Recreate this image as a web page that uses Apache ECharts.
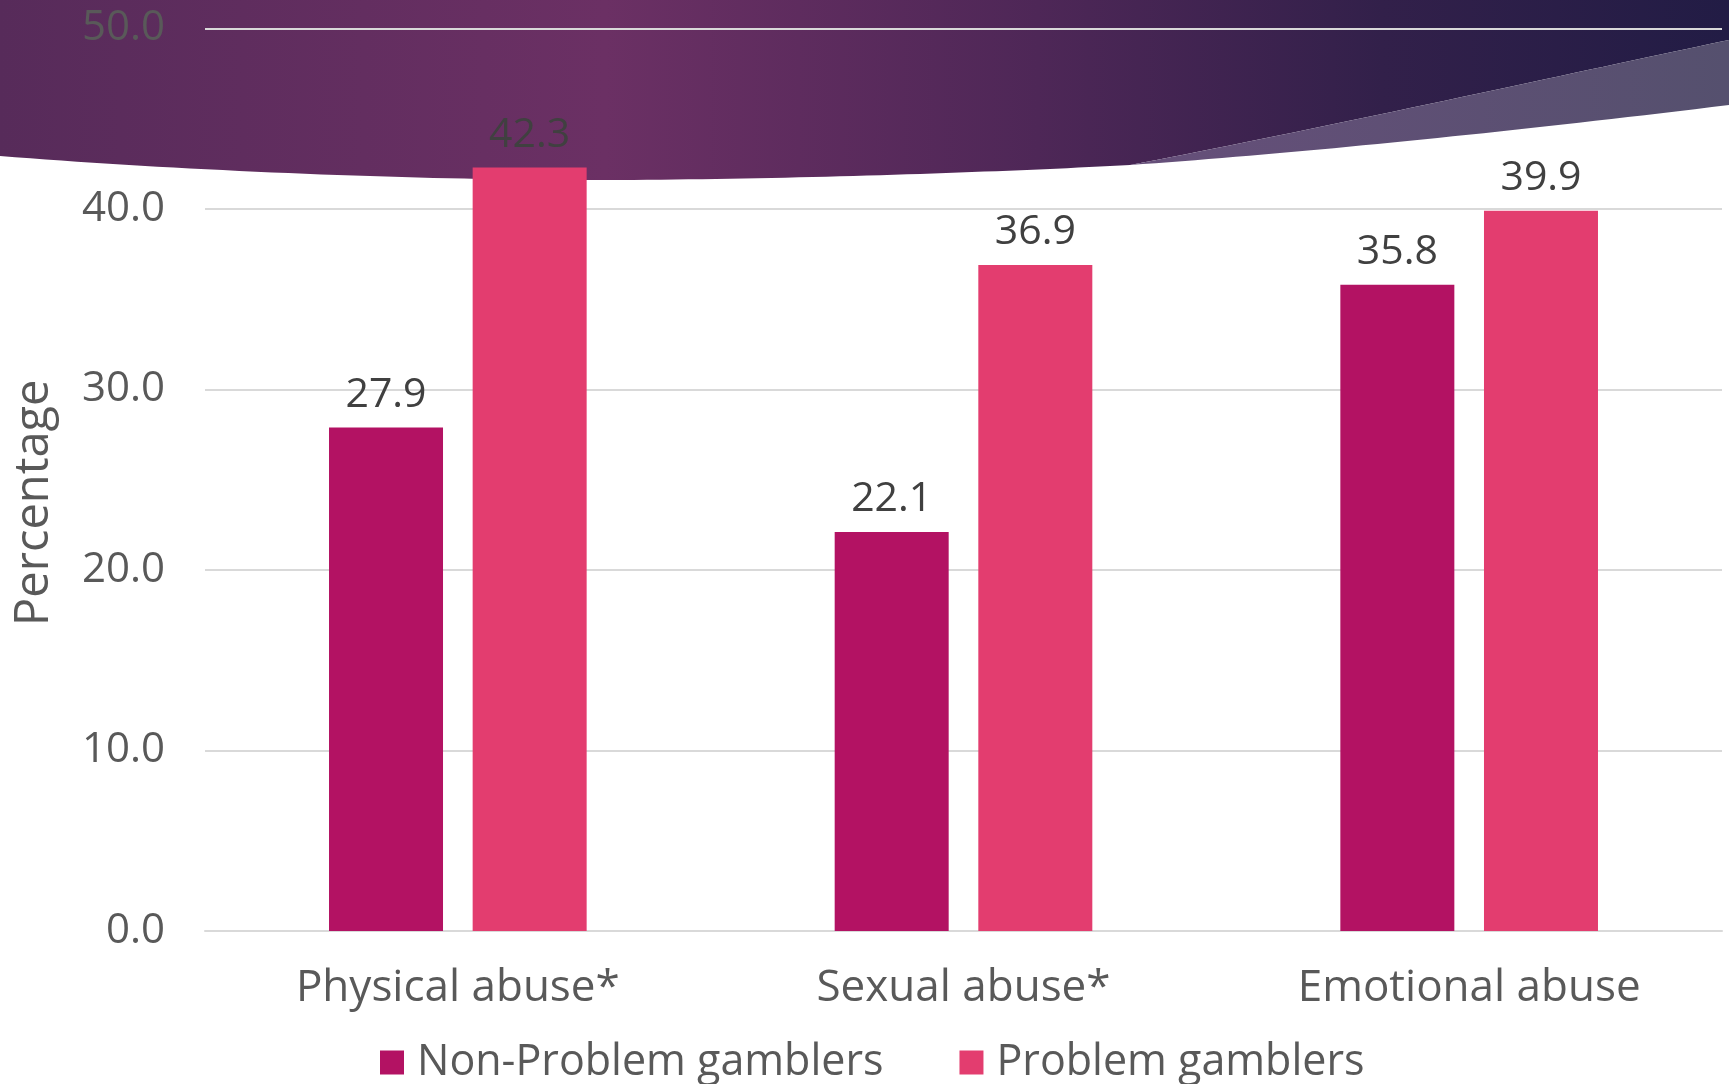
<!DOCTYPE html>
<html>
<head>
<meta charset="utf-8">
<script src="https://cdn.jsdelivr.net/npm/echarts@6/dist/echarts.min.js"></script>
<style>
html,body{margin:0;padding:0;background:#fff;}
#chart{width:1729px;height:1084px;}
</style>
</head>
<body>
<div id="chart"></div>
<script>
const categories = ['Physical abuse*', 'Sexual abuse*', 'Emotional abuse'];
const seriesNames = ['Non-Problem gamblers', 'Problem gamblers'];
const nonProblem = [27.9, 22.1, 35.8];
const problem = [42.3, 36.9, 39.9];
const yTicks = { min: 0, max: 50, interval: 10 };
const yTitle = 'Percentage';

const FONT = 'Open Sans';
const chart = echarts.init(document.getElementById('chart'));

const labelOpt = {
  show: true,
  position: 'top',
  distance: 12,
  fontFamily: FONT,
  fontSize: 41,
  color: '#404040',
  formatter: p => p.value.toFixed(1)
};

function hGrad(stops) {
  return { type: 'linear', x: 0, y: 0, x2: 1, y2: 0, colorStops: stops };
}
// sample a cubic bezier into polygon points (decorative banner only)
function cubic(p0, p1, p2, p3, n) {
  const pts = [];
  for (let i = 0; i <= n; i++) {
    const t = i / n, u = 1 - t;
    pts.push([
      u*u*u*p0[0] + 3*u*u*t*p1[0] + 3*u*t*t*p2[0] + t*t*t*p3[0],
      u*u*u*p0[1] + 3*u*u*t*p1[1] + 3*u*t*t*p2[1] + t*t*t*p3[1]
    ]);
  }
  return pts;
}
const darkPts = [[0, 0], [1729, 0]]
  .concat(cubic([1729, 40], [1600, 67], [1300, 133], [1130, 165], 40))
  .concat(cubic([1130, 165], [1000, 172], [800, 179], [620, 180], 40))
  .concat(cubic([620, 180], [450, 181], [200, 172], [0, 156], 40));
const bandPts = cubic([1729, 40], [1600, 67], [1300, 133], [1130, 165], 40)
  .concat(cubic([1130, 165], [1300, 153], [1500, 133], [1729, 105], 40));

chart.setOption({
  backgroundColor: '#ffffff',
  animation: false,
  textStyle: { fontFamily: FONT },
  graphic: {
    elements: [
      {
        type: 'polygon',
        z: -10,
        silent: true,
        shape: { points: darkPts },
        style: {
          fill: hGrad([
            { offset: 0, color: '#572b5a' },
            { offset: 0.35, color: '#6b3064' },
            { offset: 0.6, color: '#4e2757' },
            { offset: 0.8, color: '#32204a' },
            { offset: 1, color: '#221c45' }
          ])
        }
      },
      {
        type: 'polygon',
        z: -10,
        silent: true,
        shape: { points: bandPts },
        style: {
          fill: hGrad([
            { offset: 0, color: '#664f7a' },
            { offset: 1, color: '#55506e' }
          ])
        }
      }
    ]
  },
  grid: { left: 205, right: 7, top: 28.5, bottom: 153, outerBoundsMode: 'none', containLabel: false },
  legend: {
    data: seriesNames,
    left: 380,
    top: 1041,
    padding: 0,
    icon: 'rect',
    itemWidth: 24,
    itemHeight: 24,
    itemGap: 76,
    textStyle: { fontFamily: FONT, fontSize: 43, color: '#595959', padding: [0, 0, 0, 8] }
  },
  xAxis: {
    type: 'category',
    data: categories,
    axisTick: { show: false },
    axisLine: { show: true, lineStyle: { color: '#d9d9d9', width: 2 } },
    axisLabel: { fontFamily: FONT, fontSize: 44, color: '#595959', margin: 35 }
  },
  yAxis: {
    type: 'value',
    min: yTicks.min,
    max: yTicks.max,
    interval: yTicks.interval,
    name: yTitle,
    nameLocation: 'middle',
    nameRotate: 90,
    nameGap: 147,
    nameTextStyle: { fontFamily: FONT, fontSize: 47, color: '#595959', padding: [0, 46, 0, 0] },
    axisLine: { show: false },
    axisTick: { show: false },
    splitLine: { lineStyle: { color: '#d9d9d9', width: 2 } },
    axisLabel: {
      fontFamily: FONT, fontSize: 42, color: '#595959', margin: 40,
      formatter: v => v.toFixed(1)
    }
  },
  series: [
    {
      name: seriesNames[0],
      type: 'bar',
      data: nonProblem,
      barWidth: 114,
      barGap: '26%',
      itemStyle: { color: '#b31263' },
      label: labelOpt
    },
    {
      name: seriesNames[1],
      type: 'bar',
      data: problem,
      barWidth: 114,
      barGap: '26%',
      itemStyle: { color: '#e33d6f' },
      label: labelOpt
    }
  ]
});
</script>
</body>
</html>
